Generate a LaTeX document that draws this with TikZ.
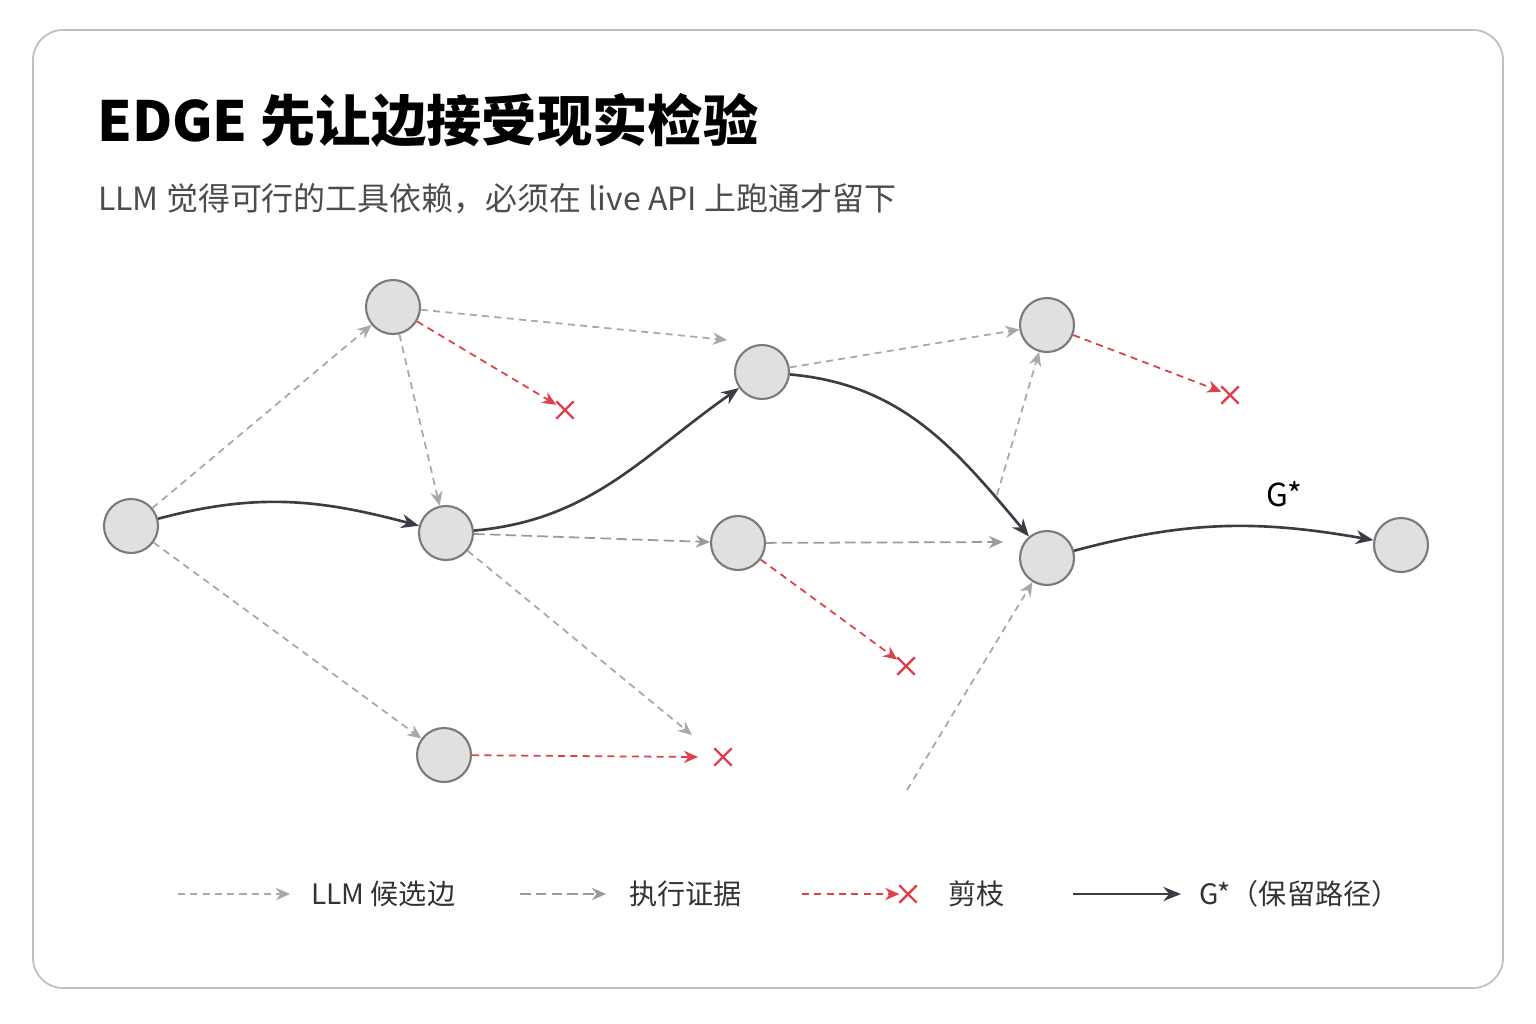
\documentclass[tikz,border=0pt]{standalone}
\usepackage{fontspec}
\setmainfont{Noto Sans CJK SC}
\usetikzlibrary{arrows.meta,shapes.misc}
\definecolor{nodefill}{HTML}{E0E0E0}
\definecolor{nodeline}{HTML}{7A7A7A}
\definecolor{cand}{HTML}{A8A8A8}
\definecolor{exec}{HTML}{9A9A9A}
\definecolor{prune}{HTML}{E0404A}
\definecolor{keep}{HTML}{3A3D45}
\begin{document}
\begin{tikzpicture}[x=0.02cm,y=-0.02cm]
\tikzstyle{vertex}=[circle,draw=nodeline,fill=nodefill,line width=1.2pt,minimum size=1.08cm,inner sep=0pt]
\tikzstyle{cutx}=[cross out,draw=prune,line width=1.4pt,minimum size=0.3cm,inner sep=0pt]
\tikzstyle{cand}=[draw=cand,line width=1pt,dash pattern=on 4pt off 3pt,-{Stealth[length=8pt,width=7pt]}]
\tikzstyle{exec}=[draw=exec,line width=1pt,dash pattern=on 6pt off 3pt,-{Stealth[length=8pt,width=7pt]}]
\tikzstyle{prune}=[draw=prune,line width=1pt,dash pattern=on 4pt off 3pt,-{Stealth[length=8pt,width=7pt]}]
\tikzstyle{keep}=[draw=keep,line width=1.5pt,-{Stealth[length=10pt,width=8pt]}]
\useasboundingbox (0,0) rectangle (1536,1024);
\draw[draw=black!25,line width=1pt,rounded corners=0.6cm] (33,30) rectangle (1503,988);
\node[anchor=west,font=\bfseries\fontsize{31.5}{36}\selectfont] (title) at (91,120) {EDGE 先让边接受现实检验};
\node[anchor=west,font=\fontsize{18.2}{21}\selectfont,text=black!70] (sub) at (92,199) {LLM 觉得可行的工具依赖，必须在 live API 上跑通才留下};
% nodes
\node[vertex] (1) at (131,526) {};
\node[vertex] (2) at (393,307) {};
\node[vertex] (3) at (446,533) {};
\node[vertex] (4) at (444,755) {};
\node[vertex] (5) at (762,372) {};
\node[vertex] (6) at (738,543) {};
\node[vertex] (7) at (1047,325) {};
\node[vertex] (8) at (1047,558) {};
\node[vertex] (9) at (1401,545) {};
\node[cutx] (x1) at (565,410) {};
\node[cutx] (x2) at (723,757) {};
\node[cutx] (x3) at (906,666) {};
\node[cutx] (x4) at (1230,395) {};
\coordinate (c1) at (692,735);
\coordinate (c2) at (907,790);
\coordinate (c3) at (727,340);
\coordinate (c4) at (997,495);
\coordinate (c5) at (1003,542);
% candidate edges
\draw[cand] (1) -- (2);
\draw[cand] (1) -- (4);
\draw[cand] (2) -- (3);
\draw[cand] (2) -- (c3);
\draw[cand] (3) -- (c1);
\draw[exec] (3) -- (6);
\draw[cand] (5) -- (7);
\draw[exec] (6) -- (c5);
\draw[cand] (c4) -- (7);
\draw[cand] (c2) -- (8);
% pruned edges
\draw[prune] (2) -- (x1);
\draw[prune] (4) -- ([xshift=-0.5cm]x2.center);
\draw[prune] (6) -- (x3);
\draw[prune] (7) -- (x4);
% kept path
\draw[keep] (1) to[out=15,in=165] (3);
\draw[keep] (3) to[out=5,in=215] (5);
\draw[keep] (5) to[out=-5,in=130] (8);
\draw[keep] (8) to[out=15,in=170] (9);
\node[font=\fontsize{18}{20}\selectfont] (gl) at (1284,494) {G*};
% legend
\coordinate (l1a) at (178,894); \coordinate (l1b) at (290,894);
\coordinate (l2a) at (520,894); \coordinate (l2b) at (606,894);
\coordinate (l3a) at (802,894);
\coordinate (l4a) at (1073,894); \coordinate (l4b) at (1181,894);
\node[cutx] (lx) at (908,894) {};
\draw[cand] (l1a) -- (l1b);
\draw[exec] (l2a) -- (l2b);
\draw[prune] (l3a) -- (lx);
\draw[keep] (l4a) -- (l4b);
\tikzset{leg/.style={anchor=west,font=\fontsize{16}{18}\selectfont,text=black!80}}
\node[leg] (t1) at (305,894) {LLM 候选边};
\node[leg] (t2) at (623,894) {执行证据};
\node[leg] (t3) at (942,894) {剪枝};
\node[leg] (t4) at (1193,894) {G*（保留路径）};
\end{tikzpicture}
\end{document}
